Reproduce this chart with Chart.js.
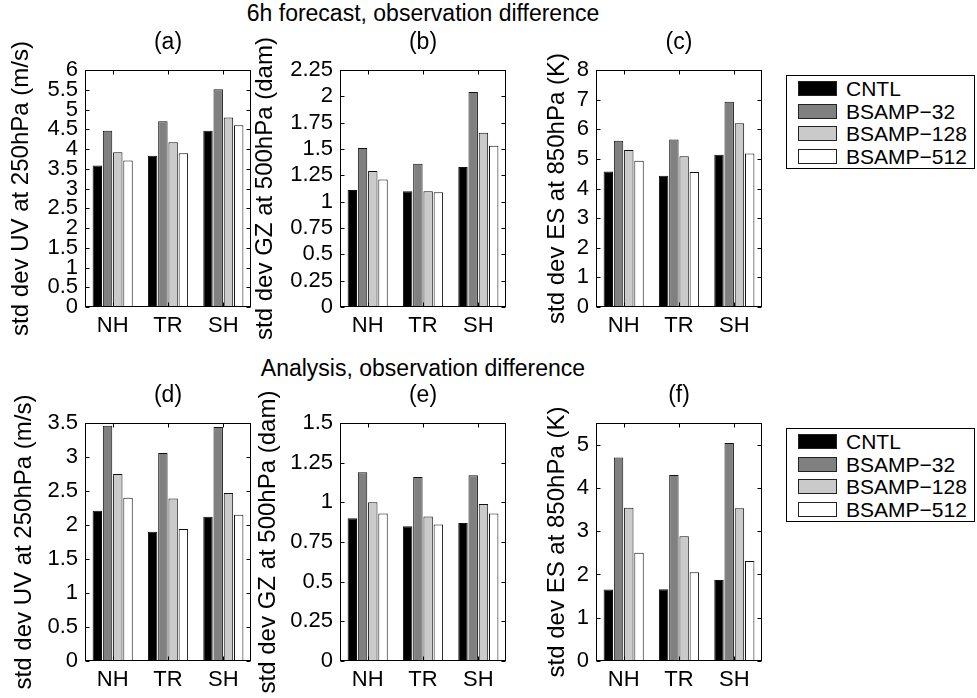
<!DOCTYPE html>
<html>
<head>
<meta charset="utf-8">
<script src="https://cdn.jsdelivr.net/npm/chart.js@4.4.0/dist/chart.umd.min.js"></script>
<style>
  body { margin: 0; background: #fff; width: 977px; height: 698px; position: relative; overflow: hidden;
         font-family: "Liberation Sans", Arial, sans-serif; color: #000; }
  canvas { position: absolute; }
  .sup { position: absolute; left: 0; width: 846px; text-align: center; font-size: 23px; line-height: 26px; }
  .legend { position: absolute; left: 786px; width: 189px; height: 94px; border: 1px solid #000; background: #fff; box-sizing: border-box; }
  .row { position: absolute; left: 0; height: 22px; font-size: 21px; line-height: 22px; }
  .sw { position: absolute; left: 11px; top: 3px; width: 39px; height: 15px; border: 1px solid #222; box-sizing: border-box; }
  .lab { position: absolute; left: 59px; top: 0; white-space: nowrap; }
</style>
</head>
<body>
<div class="sup" style="top:0px">6h forecast, observation difference</div>
<div class="sup" style="top:355px">Analysis, observation difference</div>

<script>
// categories and series
const categories = ["NH", "TR", "SH"];
const seriesNames = ["CNTL", "BSAMP\u221232", "BSAMP\u2212128", "BSAMP\u2212512"];
const seriesColors = ["#000000", "#808080", "#cacaca", "#ffffff"];

// values per panel: [CNTL, BSAMP-32, BSAMP-128, BSAMP-512] over NH, TR, SH
const valuesA = [[3.58, 3.83, 4.46], [4.46, 4.70, 5.51], [3.92, 4.17, 4.80], [3.71, 3.89, 4.60]];
const valuesB = [[1.11, 1.10, 1.33], [1.51, 1.36, 2.04], [1.29, 1.10, 1.655], [1.21, 1.09, 1.53]];
const valuesC = [[4.57, 4.43, 5.14], [5.61, 5.65, 6.93], [5.30, 5.09, 6.20], [4.94, 4.56, 5.18]];
const valuesD = [[2.21, 1.90, 2.12], [3.46, 3.06, 3.44], [2.75, 2.39, 2.47], [2.40, 1.94, 2.15]];
const valuesE = [[0.90, 0.85, 0.87], [1.19, 1.16, 1.17], [1.00, 0.91, 0.99], [0.93, 0.86, 0.93]];
const valuesF = [[1.65, 1.66, 1.87], [4.70, 4.30, 5.04], [3.54, 2.88, 3.53], [2.50, 2.05, 2.31]];

// y tick labels
const ticksA = [0, 0.5, 1, 1.5, 2, 2.5, 3, 3.5, 4, 4.5, 5, 5.5, 6];
const ticksB = [0, 0.25, 0.5, 0.75, 1, 1.25, 1.5, 1.75, 2, 2.25];
const ticksC = [0, 1, 2, 3, 4, 5, 6, 7, 8];
const ticksD = [0, 0.5, 1, 1.5, 2, 2.5, 3, 3.5];
const ticksE = [0, 0.25, 0.5, 0.75, 1, 1.25, 1.5];
const ticksF = [0, 1, 2, 3, 4, 5];

const FONT = "'Liberation Sans', Arial, sans-serif";
const W = 166;

// layout of the six axes (pixel placement only)
const panels = [
  { title: "(a)", ylabel: "std dev UV at 250hPa (m/s)", values: valuesA, ticks: ticksA, max: 6,    left: 85,  top: 70,  h: 237, tpad: 11.6 },
  { title: "(b)", ylabel: "std dev GZ at 500hPa (dam)", values: valuesB, ticks: ticksB, max: 2.25, left: 340, top: 70,  h: 237, tpad: 0.6 },
  { title: "(c)", ylabel: "std dev ES at 850hPa (K)",   values: valuesC, ticks: ticksC, max: 8,    left: 596, top: 70,  h: 237, tpad: 36.6 },
  { title: "(d)", ylabel: "std dev UV at 250hPa (m/s)", values: valuesD, ticks: ticksD, max: 3.5,  left: 85,  top: 423, h: 238, tpad: 14.6 },
  { title: "(e)", ylabel: "std dev GZ at 500hPa (dam)", values: valuesE, ticks: ticksE, max: 1.5,  left: 340, top: 423, h: 238, tpad: 3.6 },
  { title: "(f)", ylabel: "std dev ES at 850hPa (K)",   values: valuesF, ticks: ticksF, max: 5.5,  left: 596, top: 423, h: 238, tpad: 36.6 }
];

// box around the axes + inward tick marks (matlab style)
const boxTicks = {
  id: "boxTicks",
  afterDraw(chart) {
    const { ctx, chartArea: a, scales: { x, y } } = chart;
    const l = Math.round(a.left) + 0.5, r = Math.round(a.right) - 0.5;
    const t = Math.round(a.top) + 0.5, b = Math.round(a.bottom) - 0.5;
    ctx.save();
    ctx.strokeStyle = "#000";
    ctx.lineWidth = 1;
    ctx.beginPath();
    y.ticks.forEach(tk => {
      const py = Math.round(y.getPixelForValue(tk.value)) + 0.5;
      ctx.moveTo(l, py); ctx.lineTo(l + 4, py);
      ctx.moveTo(r, py); ctx.lineTo(r - 4, py);
    });
    x.ticks.forEach((tk, i) => {
      const px = Math.round(x.getPixelForTick(i)) + 0.5;
      ctx.moveTo(px, t); ctx.lineTo(px, t + 4);
      ctx.moveTo(px, b); ctx.lineTo(px, b - 4);
    });
    ctx.stroke();
    ctx.strokeRect(l, t, r - l, b - t);
    ctx.restore();
  }
};

panels.forEach(p => {
  const cv = document.createElement("canvas");
  const cw = 90 + W + 12, ch = 45 + p.h + 45;
  cv.width = cw; cv.height = ch;
  cv.style.left = (p.left - 90) + "px";
  cv.style.top = (p.top - 45) + "px";
  document.body.appendChild(cv);

  new Chart(cv, {
    type: "bar",
    data: {
      labels: categories,
      datasets: seriesNames.map((n, i) => ({
        label: n,
        data: p.values[i],
        backgroundColor: seriesColors[i],
        borderColor: "#111",
        borderWidth: 1,
        barPercentage: 0.92,
        categoryPercentage: 0.74
      }))
    },
    options: {
      responsive: false,
      animation: false,
      devicePixelRatio: 1,
      // x axis height = font line (26.4) + 2 * tick padding (12) -> 38.4, +6.6 = 45
      layout: { padding: { left: 0, right: 12, top: 0, bottom: 6.6 } },
      plugins: {
        legend: { display: false },
        tooltip: { enabled: false },
        title: {
          display: true, text: p.title, fullSize: false, color: "#000",
          font: { family: FONT, size: 23, weight: "normal" },
          padding: { top: 4.2, bottom: 13.2 }
        }
      },
      scales: {
        x: {
          grid: { display: false, drawTicks: false },
          border: { display: false },
          ticks: { color: "#000", font: { family: FONT, size: 22 }, padding: 6, maxRotation: 0 }
        },
        y: {
          min: 0, max: p.max,
          grid: { display: false, drawTicks: false },
          border: { display: false },
          afterBuildTicks: s => { s.ticks = p.ticks.map(v => ({ value: v })); },
          afterFit: s => { s.width = 90; },
          ticks: { autoSkip: false, color: "#000", font: { family: FONT, size: 22 }, padding: 7,
                   callback: v => String(v) },
          title: { display: true, text: p.ylabel, color: "#000",
                   font: { family: FONT, size: 24 }, padding: { top: p.tpad, bottom: 0 } }
        }
      }
    },
    plugins: [boxTicks]
  });
});

// legends (one per row of panels)
[75, 428].forEach(top => {
  const box = document.createElement("div");
  box.className = "legend";
  box.style.top = top + "px";
  seriesNames.forEach((n, i) => {
    const row = document.createElement("div");
    row.className = "row";
    row.style.top = (2 + i * 22.5) + "px";
    row.innerHTML = '<div class="sw" style="background:' + seriesColors[i] + '"></div><div class="lab">' + n + "</div>";
    box.appendChild(row);
  });
  document.body.appendChild(box);
});
</script>
</body>
</html>
